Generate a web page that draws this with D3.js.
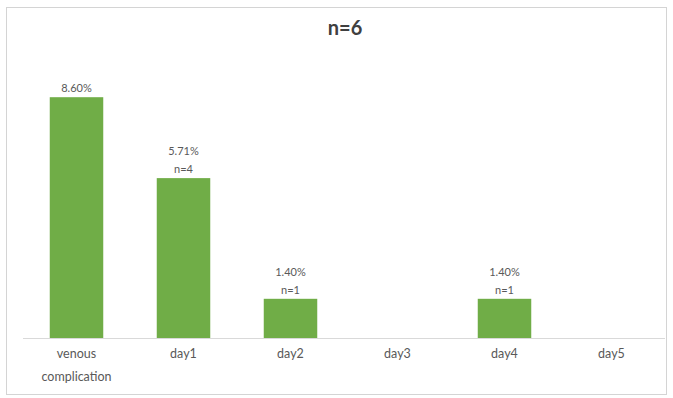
<!DOCTYPE html>
<html>
<head>
<meta charset="utf-8">
<script src="https://cdn.jsdelivr.net/npm/d3@7"></script>
<style>
  body { margin: 0; background: #fff; }
  svg { font-family: Lato, "Noto Sans", sans-serif; }
</style>
</head>
<body>
<div id="chart"></div>
<script>
// chart data
const categories = ["venous\ncomplication", "day1", "day2", "day3", "day4", "day5"];
const values = [8.60, 5.71, 1.40, 0, 1.40, 0];
const pctLabels = ["8.60%", "5.71%", "1.40%", "", "1.40%", ""];
const countLabels = ["", "n=4", "n=1", "", "n=1", ""];
const title = "n=6";

const width = 673, height = 398;
const margin = { top: 58, right: 8, bottom: 60, left: 23 };

const svg = d3.select("#chart").append("svg")
  .attr("width", width)
  .attr("height", height);

// outer frame
svg.append("rect")
  .attr("x", 6.5).attr("y", 7.5)
  .attr("width", 660).attr("height", 387)
  .attr("fill", "#fff")
  .attr("stroke", "#d4d4d4");

svg.append("text")
  .attr("x", 345).attr("y", 35)
  .attr("text-anchor", "middle")
  .attr("font-size", 20)
  .attr("font-weight", "bold")
  .attr("fill", "#404040")
  .text(title);

const x = d3.scaleBand()
  .domain(categories)
  .range([margin.left, width - margin.right])
  .paddingInner(0.5)
  .paddingOuter(0.25);

const y = d3.scaleLinear()
  .domain([0, 10])
  .range([height - margin.bottom, margin.top]);

const idx = d3.range(categories.length);

svg.append("g").selectAll("rect")
  .data(idx.filter(i => values[i] > 0))
  .enter()
  .append("rect")
  .attr("x", i => x(categories[i]))
  .attr("y", i => y(values[i]))
  .attr("width", x.bandwidth())
  .attr("height", i => y(0) - y(values[i]))
  .attr("fill", "#70ad47");

// baseline
svg.append("line")
  .attr("x1", margin.left).attr("x2", width - margin.right)
  .attr("y1", y(0) + 0.5).attr("y2", y(0) + 0.5)
  .attr("stroke", "#d9d9d9");

// data labels
const labels = svg.append("g")
  .attr("font-size", 11)
  .attr("fill", "#595959")
  .attr("text-anchor", "middle");

idx.filter(i => values[i] > 0).forEach(i => {
  const cx = x(categories[i]) + x.bandwidth() / 2;
  const top = y(values[i]);
  if (countLabels[i]) {
    labels.append("text").attr("x", cx).attr("y", top - 23).text(pctLabels[i]);
    labels.append("text").attr("x", cx).attr("y", top - 5).text(countLabels[i]);
  } else {
    labels.append("text").attr("x", cx).attr("y", top - 5).text(pctLabels[i]);
  }
});

// category labels
const xAxis = svg.append("g")
  .attr("font-size", 12.5)
  .attr("fill", "#595959")
  .attr("text-anchor", "middle");

categories.forEach(c => {
  const t = xAxis.append("text")
    .attr("x", x(c) + x.bandwidth() / 2)
    .attr("y", y(0) + 20);
  c.split("\n").forEach((line, k) => {
    t.append("tspan")
      .attr("x", x(c) + x.bandwidth() / 2)
      .attr("dy", k === 0 ? 0 : 23)
      .text(line);
  });
});
</script>
</body>
</html>
